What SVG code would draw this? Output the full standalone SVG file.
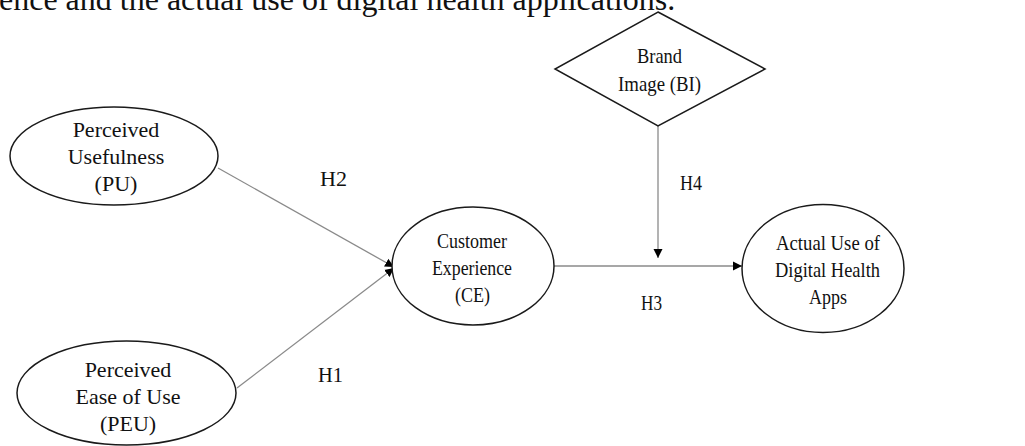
<svg xmlns="http://www.w3.org/2000/svg" width="1025" height="446" viewBox="0 0 1025 446">
<style>
text{font-family:"Liberation Serif","Times New Roman",serif;fill:#111}
.lbl{font-size:22px;text-anchor:middle}
.h{font-size:22px}
.shape{fill:#fff;stroke:#1a1a1a;stroke-width:1.5}
.conn{stroke:#8a8a8a;stroke-width:1.3;fill:none;marker-end:url(#arr)}
</style>
<defs>
<marker id="arr" markerUnits="userSpaceOnUse" markerWidth="10" markerHeight="10" refX="9" refY="4.5" orient="auto" viewBox="0 0 10 9">
<path d="M0,0 L9,4.5 L0,9 z" fill="#000"/>
</marker>
</defs>
<rect width="1025" height="446" fill="#fff"/>
<text x="-1" y="9.5" font-size="32">ence and the actual use of digital health applications.</text>
<g id="connectors">
<line class="conn" x1="218" y1="168" x2="394" y2="267"/>
<line class="conn" x1="237" y1="388" x2="394" y2="268"/>
<line class="conn" x1="554" y1="266" x2="742" y2="266"/>
<line class="conn" x1="658" y1="126" x2="658" y2="258"/>
</g>
<g id="PU">
<ellipse class="shape" cx="114" cy="156" rx="104" ry="49"/>
<text class="lbl" x="116" y="137">Perceived</text>
<text class="lbl" x="116" y="164">Usefulness</text>
<text class="lbl" x="116" y="191">(PU)</text>
</g>
<g id="PEU">
<ellipse class="shape" cx="126.5" cy="393" rx="109.5" ry="52"/>
<text class="lbl" x="128" y="377">Perceived</text>
<text class="lbl" x="128" y="404">Ease of Use</text>
<text class="lbl" x="128" y="431">(PEU)</text>
</g>
<g id="CE">
<ellipse class="shape" cx="473" cy="266" rx="81" ry="59"/>
<text class="lbl" x="472" y="248" textLength="70" lengthAdjust="spacingAndGlyphs">Customer</text>
<text class="lbl" x="472" y="275" textLength="80" lengthAdjust="spacingAndGlyphs">Experience</text>
<text class="lbl" x="472.5" y="302" textLength="35" lengthAdjust="spacingAndGlyphs">(CE)</text>
</g>
<g id="AU">
<ellipse class="shape" cx="823" cy="268.5" rx="81" ry="64"/>
<text class="lbl" x="828" y="250" textLength="104" lengthAdjust="spacingAndGlyphs">Actual Use of</text>
<text class="lbl" x="827.5" y="277" textLength="105" lengthAdjust="spacingAndGlyphs">Digital Health</text>
<text class="lbl" x="828" y="304" textLength="38" lengthAdjust="spacingAndGlyphs">Apps</text>
</g>
<g id="BI">
<polygon class="shape" points="658,12 765,69 658,126 555,69"/>
<text class="lbl" x="659.5" y="63" textLength="45" lengthAdjust="spacingAndGlyphs">Brand</text>
<text class="lbl" x="659.5" y="91" textLength="83" lengthAdjust="spacingAndGlyphs">Image (BI)</text>
</g>
<g id="labels">
<text class="h" x="320" y="186" textLength="27" lengthAdjust="spacingAndGlyphs">H2</text>
<text class="h" x="318" y="382" textLength="25" lengthAdjust="spacingAndGlyphs">H1</text>
<text class="h" x="680" y="190" textLength="22" lengthAdjust="spacingAndGlyphs">H4</text>
<text class="h" x="641" y="310" textLength="21" lengthAdjust="spacingAndGlyphs">H3</text>
</g>
</svg>
